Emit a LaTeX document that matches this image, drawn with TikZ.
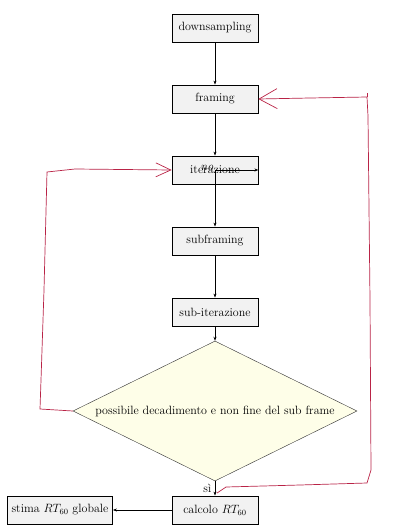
\documentclass[tikz,border=0pt]{standalone}
\usetikzlibrary{shapes.geometric,arrows.meta}
\definecolor{boxfill}{RGB}{242,242,242}
\definecolor{dfill}{RGB}{254,254,232}
\definecolor{hand}{RGB}{185,35,70}
\begin{document}
\begin{tikzpicture}[x=1pt,y=-1pt,font=\large,
  procbox/.style={draw,thick,fill=boxfill,minimum width=86pt,minimum height=28pt,inner sep=2pt},
  decbox/.style={draw=black!80,fill=dfill,shape=diamond,aspect=2.03,minimum width=284pt,minimum height=140pt,inner sep=0pt},
  flow/.style={-{Stealth[length=4pt,width=3pt]},thick},
  handline/.style={draw=hand,line width=0.7pt}]
\useasboundingbox (0,0) rectangle (419,530);
\node[procbox] (down) at (215,28) {downsampling};
\node[procbox] (fram) at (215,99) {framing};
\node[procbox] (iter) at (215,170) {iterazione};
\node[procbox] (subf) at (215,241) {subframing};
\node[procbox] (subi) at (215,312) {sub-iterazione};
\node[decbox] (dec) at (215,411) {possibile decadimento e non fine del sub frame};
\node[procbox] (calc) at (215,510) {calcolo $RT_{60}$};
\node[procbox,minimum width=105pt] (stim) at (60,510) {stima $RT_{60}$ globale};
\draw[flow] (down) -- (fram);
\draw[flow] (fram) -- (iter);
\draw[flow] (iter.center) -- (subf.north);
\draw[flow] (iter.center) -- (iter.east);
\node[font=\large\itshape] (no) at (207,168) {no};
\draw[flow] (subf) -- (subi);
\draw[flow] (subi) -- (dec.north);
\draw[flow] (dec.south) -- node[left,pos=0.5] (si) {sì} (calc.north);
\draw[flow] (calc) -- (stim);
% hand-drawn red corrections
\coordinate (r1) at (310,98);
\coordinate (r2) at (367,97);
\coordinate (r3) at (368,116);
\coordinate (r4) at (370,300);
\coordinate (r5) at (371,470);
\coordinate (r6) at (367,483);
\coordinate (r7) at (300,485);
\coordinate (r8) at (226,487);
\coordinate (rtick) at (367,93);
\draw[handline,-{Straight Barb[length=18pt,width=20pt]}] (r8) -- (r7) -- (r6) -- (r5) -- (r4) -- (r3) -- (r2) -- (r1) -- (fram.east);
\draw[handline] (r2) -- (rtick);
\draw[handline] (r8) -- (217,493);
\coordinate (l1) at (40,409);
\coordinate (l2) at (41,380);
\coordinate (l3) at (44,290);
\coordinate (l4) at (47,172);
\coordinate (l5) at (75,169);
\draw[handline,-{Straight Barb[length=15pt,width=14pt]}] (dec.west) -- (l1) -- (l2) -- (l3) -- (l4) -- (l5) -- (iter.west);
\end{tikzpicture}
\end{document}
